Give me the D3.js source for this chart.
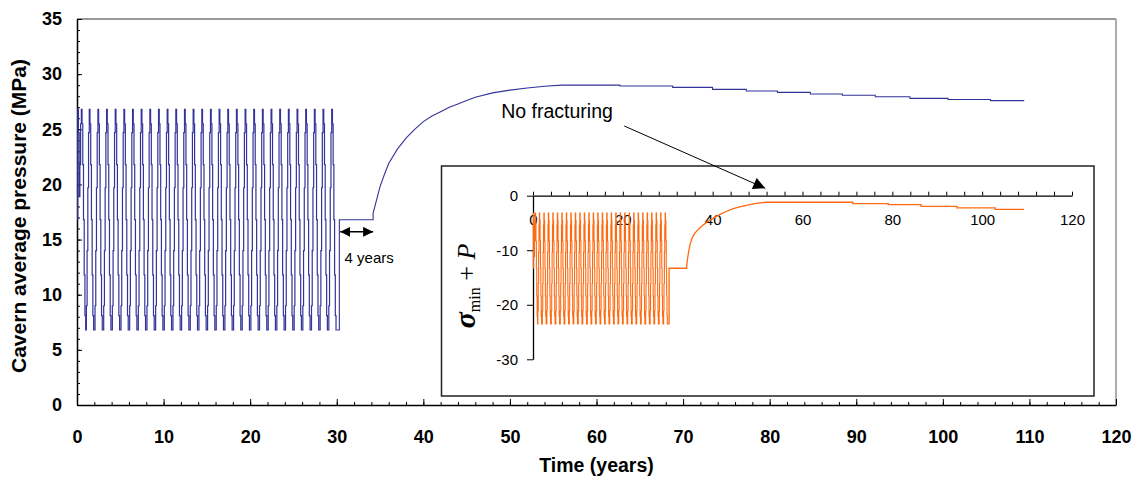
<!DOCTYPE html>
<html><head><meta charset="utf-8">
<script src="https://cdn.jsdelivr.net/npm/d3@7"></script>
<style>body{margin:0;background:#fff}svg{display:block}</style>
</head><body><svg id="c" width="1136" height="477"></svg>
<script>
// ---------- data ----------
const xTickLabels = [0,10,20,30,40,50,60,70,80,90,100,110,120];
const yTickLabels = [0,5,10,15,20,25,30,35];
const insetXTickLabels = [0,20,40,60,80,100,120];
const insetYTickLabels = [0,-10,-20,-30];

// Cavern pressure (MPa), monthly values, one row per year (years 0..29)
const pressureMonthly = [
[16.8,26.8,24.7,18.9,21.8,25.5,26.8,25.5,21.8,16.8,11.8,8.1],
[6.8,9.0,14.0,19.7,24.7,26.8,25.5,21.8,16.8,11.8,8.1,6.8],
[6.8,9.0,14.0,19.7,24.7,26.8,25.5,21.8,16.8,11.8,8.1,6.8],
[6.8,9.0,14.0,19.7,24.7,26.8,25.5,21.8,16.8,11.8,8.1,6.8],
[6.8,9.0,14.0,19.7,24.7,26.8,25.5,21.8,16.8,11.8,8.1,6.8],
[6.8,9.0,14.0,19.7,24.7,26.8,25.5,21.8,16.8,11.8,8.1,6.8],
[6.8,9.0,14.0,19.7,24.7,26.8,25.5,21.8,16.8,11.8,8.1,6.8],
[6.8,9.0,14.0,19.7,24.7,26.8,25.5,21.8,16.8,11.8,8.1,6.8],
[6.8,9.0,14.0,19.7,24.7,26.8,25.5,21.8,16.8,11.8,8.1,6.8],
[6.8,9.0,14.0,19.7,24.7,26.8,25.5,21.8,16.8,11.8,8.1,6.8],
[6.8,9.0,14.0,19.7,24.7,26.8,25.5,21.8,16.8,11.8,8.1,6.8],
[6.8,9.0,14.0,19.7,24.7,26.8,25.5,21.8,16.8,11.8,8.1,6.8],
[6.8,9.0,14.0,19.7,24.7,26.8,25.5,21.8,16.8,11.8,8.1,6.8],
[6.8,9.0,14.0,19.7,24.7,26.8,25.5,21.8,16.8,11.8,8.1,6.8],
[6.8,9.0,14.0,19.7,24.7,26.8,25.5,21.8,16.8,11.8,8.1,6.8],
[6.8,9.0,14.0,19.7,24.7,26.8,25.5,21.8,16.8,11.8,8.1,6.8],
[6.8,9.0,14.0,19.7,24.7,26.8,25.5,21.8,16.8,11.8,8.1,6.8],
[6.8,9.0,14.0,19.7,24.7,26.8,25.5,21.8,16.8,11.8,8.1,6.8],
[6.8,9.0,14.0,19.7,24.7,26.8,25.5,21.8,16.8,11.8,8.1,6.8],
[6.8,9.0,14.0,19.7,24.7,26.8,25.5,21.8,16.8,11.8,8.1,6.8],
[6.8,9.0,14.0,19.7,24.7,26.8,25.5,21.8,16.8,11.8,8.1,6.8],
[6.8,9.0,14.0,19.7,24.7,26.8,25.5,21.8,16.8,11.8,8.1,6.8],
[6.8,9.0,14.0,19.7,24.7,26.8,25.5,21.8,16.8,11.8,8.1,6.8],
[6.8,9.0,14.0,19.7,24.7,26.8,25.5,21.8,16.8,11.8,8.1,6.8],
[6.8,9.0,14.0,19.7,24.7,26.8,25.5,21.8,16.8,11.8,8.1,6.8],
[6.8,9.0,14.0,19.7,24.7,26.8,25.5,21.8,16.8,11.8,8.1,6.8],
[6.8,9.0,14.0,19.7,24.7,26.8,25.5,21.8,16.8,11.8,8.1,6.8],
[6.8,9.0,14.0,19.7,24.7,26.8,25.5,21.8,16.8,11.8,8.1,6.8],
[6.8,9.0,14.0,19.7,24.7,26.8,25.5,21.8,16.8,11.8,8.1,6.8],
[6.8,9.0,14.0,19.7,24.7,26.8,25.5,21.8,16.8,11.8,8.1,6.8]
];
// Pressure after cycling: [time (years), pressure (MPa)]
const pressureRecovery = [
[30,6.8],[30.3,6.8],[30.3,16.8],[34.2,16.8],[34.2,17.4],[34.6,18.6],[35,19.8],[35.5,20.9],
[36,21.9],[37,23.2],[38,24.2],[39,25.0],[40,25.7],[41,26.2],[42,26.6],[43,27.0],[44,27.3],
[45,27.6],[46,27.9],[48,28.3],[50,28.55],[52,28.75],[54,28.9],[56,29.0],[62.7,29.0],
[62.7,28.93],[68.8,28.93],[68.8,28.8],[73.4,28.8],[73.4,28.62],[77.3,28.62],[77.3,28.47],
[80.9,28.47],[80.9,28.35],[84.7,28.35],[84.7,28.2],[88.4,28.2],[88.4,28.08],[92.2,28.08],
[92.2,27.95],[96.2,27.95],[96.2,27.8],[100.6,27.8],[100.6,27.7],[105.5,27.7],[105.5,27.6],[109.4,27.6]
];

// Inset: sigma_min + P, monthly values, one row per year (years 0..29)
const stressMonthly = [
[-13.3,-3.2,-5.4,-11.2,-8.3,-4.6,-3.2,-4.6,-8.3,-13.3,-18.4,-22.1],
[-23.5,-21.1,-16.1,-10.4,-5.4,-3.2,-4.6,-8.3,-13.3,-18.4,-22.1,-23.5],
[-23.5,-21.1,-16.1,-10.4,-5.4,-3.2,-4.6,-8.3,-13.3,-18.4,-22.1,-23.5],
[-23.5,-21.1,-16.1,-10.4,-5.4,-3.2,-4.6,-8.3,-13.3,-18.4,-22.1,-23.5],
[-23.5,-21.1,-16.1,-10.4,-5.4,-3.2,-4.6,-8.3,-13.3,-18.4,-22.1,-23.5],
[-23.5,-21.1,-16.1,-10.4,-5.4,-3.2,-4.6,-8.3,-13.3,-18.4,-22.1,-23.5],
[-23.5,-21.1,-16.1,-10.4,-5.4,-3.2,-4.6,-8.3,-13.3,-18.4,-22.1,-23.5],
[-23.5,-21.1,-16.1,-10.4,-5.4,-3.2,-4.6,-8.3,-13.3,-18.4,-22.1,-23.5],
[-23.5,-21.1,-16.1,-10.4,-5.4,-3.2,-4.6,-8.3,-13.3,-18.4,-22.1,-23.5],
[-23.5,-21.1,-16.1,-10.4,-5.4,-3.2,-4.6,-8.3,-13.3,-18.4,-22.1,-23.5],
[-23.5,-21.1,-16.1,-10.4,-5.4,-3.2,-4.6,-8.3,-13.3,-18.4,-22.1,-23.5],
[-23.5,-21.1,-16.1,-10.4,-5.4,-3.2,-4.6,-8.3,-13.3,-18.4,-22.1,-23.5],
[-23.5,-21.1,-16.1,-10.4,-5.4,-3.2,-4.6,-8.3,-13.3,-18.4,-22.1,-23.5],
[-23.5,-21.1,-16.1,-10.4,-5.4,-3.2,-4.6,-8.3,-13.3,-18.4,-22.1,-23.5],
[-23.5,-21.1,-16.1,-10.4,-5.4,-3.2,-4.6,-8.3,-13.3,-18.4,-22.1,-23.5],
[-23.5,-21.1,-16.1,-10.4,-5.4,-3.2,-4.6,-8.3,-13.3,-18.4,-22.1,-23.5],
[-23.5,-21.1,-16.1,-10.4,-5.4,-3.2,-4.6,-8.3,-13.3,-18.4,-22.1,-23.5],
[-23.5,-21.1,-16.1,-10.4,-5.4,-3.2,-4.6,-8.3,-13.3,-18.4,-22.1,-23.5],
[-23.5,-21.1,-16.1,-10.4,-5.4,-3.2,-4.6,-8.3,-13.3,-18.4,-22.1,-23.5],
[-23.5,-21.1,-16.1,-10.4,-5.4,-3.2,-4.6,-8.3,-13.3,-18.4,-22.1,-23.5],
[-23.5,-21.1,-16.1,-10.4,-5.4,-3.2,-4.6,-8.3,-13.3,-18.4,-22.1,-23.5],
[-23.5,-21.1,-16.1,-10.4,-5.4,-3.2,-4.6,-8.3,-13.3,-18.4,-22.1,-23.5],
[-23.5,-21.1,-16.1,-10.4,-5.4,-3.2,-4.6,-8.3,-13.3,-18.4,-22.1,-23.5],
[-23.5,-21.1,-16.1,-10.4,-5.4,-3.2,-4.6,-8.3,-13.3,-18.4,-22.1,-23.5],
[-23.5,-21.1,-16.1,-10.4,-5.4,-3.2,-4.6,-8.3,-13.3,-18.4,-22.1,-23.5],
[-23.5,-21.1,-16.1,-10.4,-5.4,-3.2,-4.6,-8.3,-13.3,-18.4,-22.1,-23.5],
[-23.5,-21.1,-16.1,-10.4,-5.4,-3.2,-4.6,-8.3,-13.3,-18.4,-22.1,-23.5],
[-23.5,-21.1,-16.1,-10.4,-5.4,-3.2,-4.6,-8.3,-13.3,-18.4,-22.1,-23.5],
[-23.5,-21.1,-16.1,-10.4,-5.4,-3.2,-4.6,-8.3,-13.3,-18.4,-22.1,-23.5],
[-23.5,-21.1,-16.1,-10.4,-5.4,-3.2,-4.6,-8.3,-13.3,-18.4,-22.1,-23.5]
];
const stressRecovery = [
[30,-23.5],[30.3,-23.5],[30.3,-13.3],[34.2,-13.3],[34.3,-12.2],[34.6,-10.5],[35,-8.8],[35.5,-7.6],
[36,-6.9],[37,-6.0],[38,-5.3],[39,-4.7],[40,-4.2],[41,-3.7],[42,-3.3],[43,-2.9],[44,-2.55],
[45,-2.3],[46,-2.05],[48,-1.7],[50,-1.35],[52,-1.2],[71.2,-1.2],[71.2,-1.45],[79.1,-1.45],
[79.1,-1.65],[86.4,-1.65],[86.4,-1.95],[94.4,-1.95],[94.4,-2.25],[102.9,-2.25],[102.9,-2.5],[109.3,-2.5]
];

// ---------- drawing ----------
const W = 1136, H = 477;
const svg = d3.select("#c");
svg.append("rect").attr("width",W).attr("height",H).attr("fill","#fff");

const x = d3.scaleLinear().domain([0,120]).range([77,1116]);
const y = d3.scaleLinear().domain([0,35]).range([405,19]);
const xi = d3.scaleLinear().domain([0,120]).range([533,1072]);
const yi = d3.scaleLinear().domain([-30,0]).range([359.3,195.7]);

const SANS = "'Liberation Sans', Arial, sans-serif";
const BLUE = "#333399", ORANGE = "#FF6A10";

function styleAxis(g, size, weight) {
  g.selectAll("text").attr("font-family", SANS).attr("font-size", size)
   .attr("font-weight", weight).attr("fill", "#000");
  g.selectAll("line").attr("stroke", "#000");
  g.select(".domain").attr("stroke", "#000");
}

// plot frame (top + right)
svg.append("line").attr("x1",x(0)).attr("x2",x(120)).attr("y1",y(35)).attr("y2",y(35))
  .attr("stroke","#333").attr("stroke-width",1);
svg.append("line").attr("x1",x(120)).attr("x2",x(120)).attr("y1",y(35)).attr("y2",y(0))
  .attr("stroke","#999").attr("stroke-width",1.6);

// main x axis
const gxMinor = svg.append("g").attr("transform",`translate(0,${y(0)})`)
  .call(d3.axisBottom(x).tickValues(d3.range(0,121,2)).tickSize(-3).tickSizeOuter(0).tickFormat(""));
gxMinor.select(".domain").remove(); styleAxis(gxMinor,0,"normal");
const gx = svg.append("g").attr("transform",`translate(0,${y(0)})`)
  .call(d3.axisBottom(x).tickValues(xTickLabels).tickSize(-6).tickSizeOuter(0).tickPadding(25).tickFormat(d=>d));
styleAxis(gx,18,"bold"); gx.select(".domain").attr("stroke-width",1.5);

// main y axis
const gyMinor = svg.append("g").attr("transform",`translate(${x(0)},0)`)
  .call(d3.axisLeft(y).tickValues(d3.range(0,36,1)).tickSize(-3).tickSizeOuter(0).tickFormat(""));
gyMinor.select(".domain").remove(); styleAxis(gyMinor,0,"normal");
const gy = svg.append("g").attr("transform",`translate(${x(0)},0)`)
  .call(d3.axisLeft(y).tickValues(yTickLabels).tickSize(-5).tickSizeOuter(0).tickPadding(15).tickFormat(d=>d));
styleAxis(gy,18,"bold"); gy.select(".domain").attr("stroke-width",1.5);

// axis titles
svg.append("text").attr("x",(x(0)+x(120))/2).attr("y",472).attr("text-anchor","middle")
  .attr("font-family",SANS).attr("font-size",19.5).attr("font-weight","bold").text("Time (years)");
svg.append("text").attr("transform",`translate(26,${(y(0)+y(35))/2 + 4}) rotate(-90)`).attr("text-anchor","middle")
  .attr("font-family",SANS).attr("font-size",21).attr("font-weight","bold").text("Cavern average pressure (MPa)");

// build monthly step series
function monthly(rows) {
  const pts = [];
  rows.forEach((row, yr) => row.forEach((v, m) => pts.push([yr + m/12, v])));
  pts.push([rows.length, rows[rows.length-1][11]]);
  return pts;
}
const stepLine = (sx, sy) => d3.line().x(d=>sx(d[0])).y(d=>sy(d[1])).curve(d3.curveStepAfter);
const linLine = (sx, sy) => d3.line().x(d=>sx(d[0])).y(d=>sy(d[1]));

// main series
svg.append("path").attr("d", stepLine(x,y)(monthly(pressureMonthly)))
  .attr("fill","none").attr("stroke",BLUE).attr("stroke-width",1.2);
svg.append("path").attr("d", linLine(x,y)(pressureRecovery))
  .attr("fill","none").attr("stroke",BLUE).attr("stroke-width",1.1);

// arrow markers
const defs = svg.append("defs");
defs.append("marker").attr("id","ah").attr("viewBox","0 0 10 10").attr("refX",10).attr("refY",5)
  .attr("markerWidth",10).attr("markerHeight",10).attr("markerUnits","userSpaceOnUse").attr("orient","auto-start-reverse")
  .append("path").attr("d","M0,0 L10,5 L0,10 z").attr("fill","#000");
defs.append("marker").attr("id","ah2").attr("viewBox","0 0 10 10").attr("refX",10).attr("refY",5)
  .attr("markerWidth",13).attr("markerHeight",12).attr("markerUnits","userSpaceOnUse").attr("orient","auto")
  .append("path").attr("d","M0,0 L10,5 L0,10 z").attr("fill","#000");

// "4 years" annotation
svg.append("line").attr("x1",x(30.4)).attr("x2",x(34.2)).attr("y1",y(15.7)).attr("y2",y(15.7))
  .attr("stroke","#000").attr("stroke-width",1.5)
  .attr("marker-start","url(#ah)").attr("marker-end","url(#ah)");
svg.append("text").attr("x",x(30.9)).attr("y",y(12.9)).attr("font-family",SANS).attr("font-size",15)
  .attr("fill","#000").text("4 years");

// ---------- inset ----------
svg.append("rect").attr("x",441.5).attr("y",166).attr("width",652.5).attr("height",230)
  .attr("fill","#fff").attr("stroke","#222").attr("stroke-width",1.5);

const gix = svg.append("g").attr("transform",`translate(0,${yi(0)})`)
  .call(d3.axisTop(xi).tickValues(d3.range(0,121,4)).tickSize(4).tickSizeOuter(0).tickFormat(""));
styleAxis(gix,0,"normal"); gix.select(".domain").attr("stroke-width",1.3);
const gixL = svg.append("g").attr("transform",`translate(0,${yi(0)})`)
  .call(d3.axisBottom(xi).tickValues(insetXTickLabels).tickSize(0).tickPadding(19).tickFormat(d=>String(d)));
gixL.select(".domain").remove(); styleAxis(gixL,15,"normal");

const giy = svg.append("g").attr("transform",`translate(${xi(0)},0)`)
  .call(d3.axisLeft(yi).tickValues(insetYTickLabels).tickSize(6).tickSizeOuter(0).tickPadding(9).tickFormat(d=>String(d)));
styleAxis(giy,15,"normal"); giy.select(".domain").attr("stroke-width",1.3);

svg.append("path").attr("d", stepLine(xi,yi)(monthly(stressMonthly)))
  .attr("fill","none").attr("stroke",ORANGE).attr("stroke-width",1.1);
svg.append("path").attr("d", linLine(xi,yi)(stressRecovery))
  .attr("fill","none").attr("stroke",ORANGE).attr("stroke-width",1.3);

// inset y label: sigma_min + P
const lab = svg.append("text").attr("transform",`translate(475,286) rotate(-90)`).attr("text-anchor","middle")
  .attr("font-family","'Liberation Serif','Times New Roman',serif").attr("fill","#000");
lab.append("tspan").attr("font-size",30).attr("font-style","italic").attr("font-weight","bold").text("σ");
lab.append("tspan").attr("font-size",16).attr("dy",5).text("min");
lab.append("tspan").attr("font-size",26).attr("dy",-5).text(" + ");
lab.append("tspan").attr("font-size",26).attr("font-style","italic").text("P");

// "No fracturing" annotation
svg.append("text").attr("x",x(49.0)).attr("y",y(26.0)).attr("font-family",SANS).attr("font-size",19.5)
  .attr("fill","#000").text("No fracturing");
svg.append("line").attr("x1",x(63.2)).attr("y1",y(25.3)).attr("x2",xi(51.7)).attr("y2",yi(1.36))
  .attr("stroke","#000").attr("stroke-width",1).attr("marker-end","url(#ah2)");
</script>
</body></html>
